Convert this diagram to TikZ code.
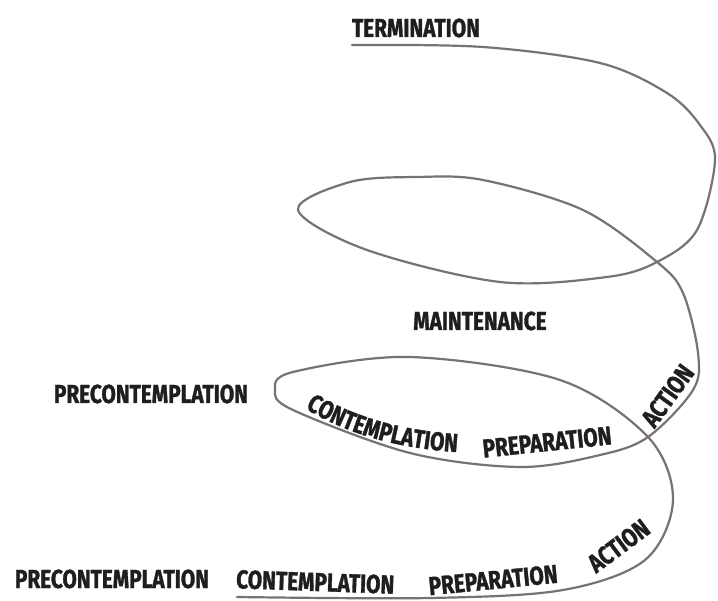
\documentclass[tikz,border=0pt]{standalone}
\usepackage{fontspec}
\newfontfamily\labfont[FakeStretch=0.8,FakeBold=1.2,UprightFont={* Bold}]{Fira Sans}
\usetikzlibrary{decorations.text}
\definecolor{spiralgray}{RGB}{120,115,112}
\definecolor{labink}{RGB}{30,30,30}
\begin{document}
\begin{tikzpicture}[x=1pt,y=-1pt,
  lab/.style={font=\labfont\fontsize{26}{26}\selectfont, text=labink, inner sep=0pt, anchor=base},
  spiral/.style={draw=spiralgray, line width=2.2pt, line cap=round, line join=round}]
\useasboundingbox (0,0) rectangle (718,601);
\fill[white] (0,0) rectangle (718,601);

% spiral line
\draw[spiral] plot[smooth, tension=0.55] coordinates {
 (237,597) (430,598) (563,590) (645,560) (673,500) (648,437) (560,380)
 (410,357) (293,372) (275,390) (293,410) (410,453) (520,467) (600,455)
 (648,437) (693,390) (698,353) (683,293) (657,262) (583,210) (483,180)
 (417,177) (350,182) (298,210) (367,250) (500,282) (607,277) (657,262)
 (697,230) (715,160) (700,125) (667,93) (600,63) (483,47) (352,45)};

% labels
\node[lab] (term) at (416,37) {TERMINATION};
\node[lab] (maint) at (480,330) {MAINTENANCE};
\node[lab] (pre1) at (151,403) {PRECONTEMPLATION};
\node[lab] (pre2) at (112,588) {PRECONTEMPLATION};
\node[lab, rotate=-2] (con2) at (315,591) {CONTEMPLATION};
\node[lab, rotate=5.6] (prep2) at (494,589) {PREPARATION};
\node[lab, rotate=36.7] (act2) at (624,553) {ACTION};
\node[lab, rotate=6] (prep1) at (548,451) {PREPARATION};
\node[lab, rotate=54] (act1) at (675,401) {ACTION};

% curved CONTEMPLATION inside the lower loop
\path[decorate, decoration={text along path, text align=center, text color=labink,
  text={|\labfont\fontsize{26}{26}\selectfont|CONTEMPLATION}}]
  (288,397) .. controls (335,431) and (395,451) .. (478,453);
\end{tikzpicture}
\end{document}
